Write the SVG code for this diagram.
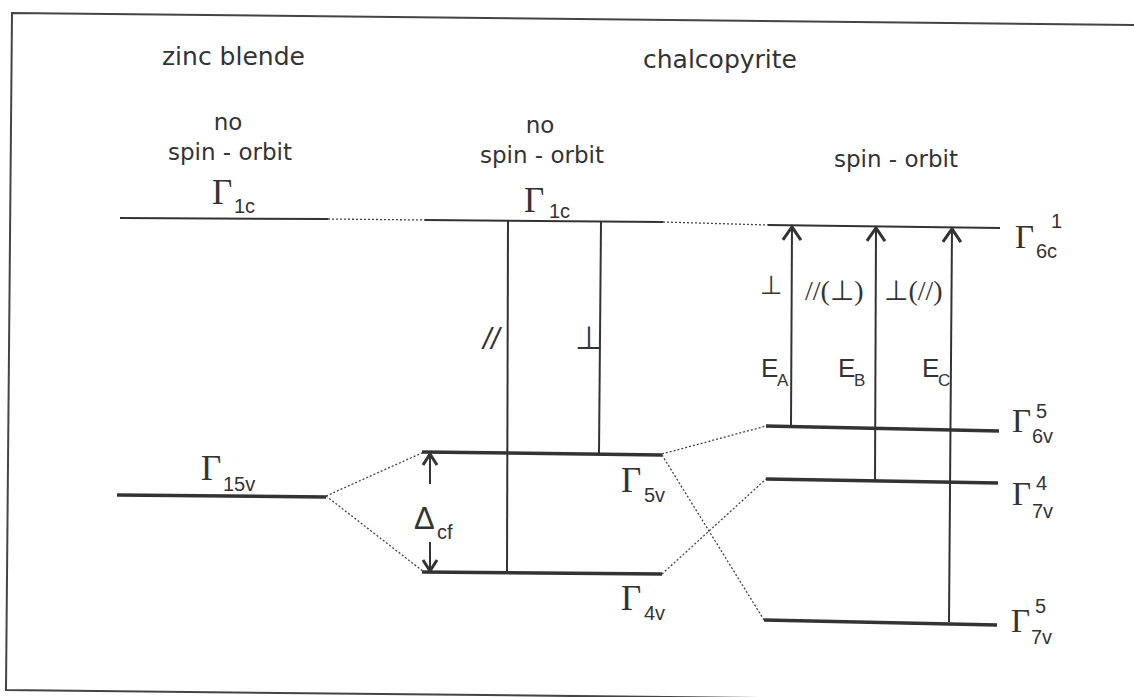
<svg xmlns="http://www.w3.org/2000/svg" width="1134" height="697" viewBox="0 0 1134 697">
<defs>
<style>
.frame{fill:none;stroke:#444;stroke-width:2}
.thin{stroke:#333;stroke-width:2;fill:none}
.thick{stroke:#333;stroke-width:3.5;fill:none}
.vert{stroke:#333;stroke-width:2;fill:none}
.dot{stroke:#444;stroke-width:1.3;stroke-dasharray:2 2;fill:none}
.arr{stroke:#333;stroke-width:2;fill:none;marker-end:url(#head)}
.arrs{stroke:#333;stroke-width:2;fill:none;marker-end:url(#heads)}
.title{font-family:"DejaVu Sans",sans-serif;font-size:25px;fill:#333}
.sub{font-family:"DejaVu Sans",sans-serif;font-size:23px;fill:#333}
.G{font-family:"Liberation Serif",serif;font-size:35px;fill:#333}
.Gr{font-family:"Liberation Serif",serif;font-size:33px;fill:#333}
.s{font-family:"Liberation Sans",sans-serif;font-size:20px;fill:#333}
.E{font-family:"Liberation Sans",sans-serif;font-size:26px;fill:#333}
.es{font-family:"Liberation Sans",sans-serif;font-size:17px;fill:#333}
.pol{font-family:"Liberation Serif","DejaVu Sans",serif;font-size:28px;fill:#333}
</style>
<marker id="head" markerUnits="userSpaceOnUse" markerWidth="30" markerHeight="30" refX="0" refY="0" orient="auto" overflow="visible">
<path d="M-13,-9 L0,0 L-13,9" fill="none" stroke="#333" stroke-width="3"/>
</marker>
<marker id="heads" markerUnits="userSpaceOnUse" markerWidth="30" markerHeight="30" refX="0" refY="0" orient="auto" overflow="visible">
<path d="M-11,-7 L0,0 L-11,7" fill="none" stroke="#333" stroke-width="3"/>
</marker>
</defs>
<rect width="1134" height="697" fill="#fff"/>
<path class="frame" d="M1136,25 L12,13 L6,690 L1136,702"/>

<g id="headings">
<text class="title" x="162" y="65">zinc blende</text>
<text class="title" x="643" y="68">chalcopyrite</text>
<text class="sub" x="228" y="130" text-anchor="middle">no</text>
<text class="sub" x="230" y="160" text-anchor="middle">spin - orbit</text>
<text class="sub" x="540" y="133" text-anchor="middle">no</text>
<text class="sub" x="542" y="163" text-anchor="middle">spin - orbit</text>
<text class="sub" x="896" y="167" text-anchor="middle">spin - orbit</text>
</g>

<g id="zb-G1c">
<line class="thin" x1="120" y1="218" x2="328" y2="219"/>
<text class="G" x="212" y="204">Γ</text><text class="s" x="234" y="213">1c</text>
</g>
<g id="zb-G15v">
<line class="thick" x1="117" y1="495" x2="326" y2="497"/>
<text class="G" x="201" y="480">Γ</text><text class="s" x="223" y="491">15v</text>
</g>

<g id="ch-G1c">
<line class="thin" x1="425" y1="220" x2="663" y2="222"/>
<text class="G" x="524" y="212">Γ</text><text class="s" x="549" y="218">1c</text>
</g>
<g id="ch-G5v">
<line class="thick" x1="422" y1="452" x2="662" y2="455"/>
<text class="G" x="621" y="492">Γ</text><text class="s" x="644" y="502">5v</text>
</g>
<g id="ch-G4v">
<line class="thick" x1="422" y1="572" x2="662" y2="574"/>
<text class="G" x="621" y="610">Γ</text><text class="s" x="644" y="620">4v</text>
</g>

<g id="so-G6c1">
<line class="thin" x1="768" y1="225" x2="1000" y2="228"/>
<text class="Gr" x="1015" y="248">Γ</text><text class="s" x="1051" y="228">1</text><text class="s" x="1036" y="258">6c</text>
</g>
<g id="so-G6v5">
<line class="thick" x1="766" y1="426" x2="999" y2="431"/>
<text class="Gr" x="1012" y="432">Γ</text><text class="s" x="1036" y="418">5</text><text class="s" x="1032" y="443">6v</text>
</g>
<g id="so-G7v4">
<line class="thick" x1="766" y1="479" x2="998" y2="483"/>
<text class="Gr" x="1012" y="505">Γ</text><text class="s" x="1036" y="490">4</text><text class="s" x="1032" y="518">7v</text>
</g>
<g id="so-G7v5">
<line class="thick" x1="764" y1="620" x2="997" y2="625"/>
<text class="Gr" x="1011" y="632">Γ</text><text class="s" x="1035" y="613">5</text><text class="s" x="1031" y="644">7v</text>
</g>

<g id="connectors">
<line class="dot" x1="328" y1="219" x2="425" y2="220"/>
<line class="dot" x1="663" y1="222" x2="768" y2="225"/>
<line class="dot" x1="326" y1="496" x2="424" y2="452"/>
<line class="dot" x1="326" y1="496" x2="424" y2="572"/>
<line class="dot" x1="662" y1="454" x2="766" y2="426"/>
<line class="dot" x1="662" y1="574" x2="766" y2="479"/>
<line class="dot" x1="662" y1="455" x2="764" y2="620"/>
<line class="vert" x1="508" y1="221" x2="507" y2="573"/>
<line class="vert" x1="601" y1="222" x2="599" y2="454"/>
<line class="arr" x1="791" y1="426" x2="792" y2="227"/>
<line class="arr" x1="875" y1="481" x2="876" y2="228"/>
<line class="arr" x1="949" y1="622" x2="952" y2="229"/>
<line class="arrs" x1="430" y1="484" x2="430" y2="454"/>
<line class="arrs" x1="430" y1="542" x2="430" y2="571"/>
</g>

<g id="labels">
<text class="s" x="414" y="529" style="font-size:31px">Δ</text><text class="s" x="437" y="539">cf</text>
<text class="s" x="483" y="349" font-style="italic" style="font-size:30px">//</text>
<text class="pol" x="575" y="349" style="font-size:32px">⊥</text>
<text class="pol" x="760" y="294" style="font-size:26px">⊥</text>
<text class="pol" x="805" y="300" style="font-size:28px">//(⊥)</text>
<text class="pol" x="884" y="300" style="font-size:28px">⊥(//)</text>
<text class="E" x="761" y="377">E</text><text class="es" x="777" y="386">A</text>
<text class="E" x="838" y="377">E</text><text class="es" x="854" y="386">B</text>
<text class="E" x="922" y="377">E</text><text class="es" x="938" y="386">C</text>
</g>
</svg>
